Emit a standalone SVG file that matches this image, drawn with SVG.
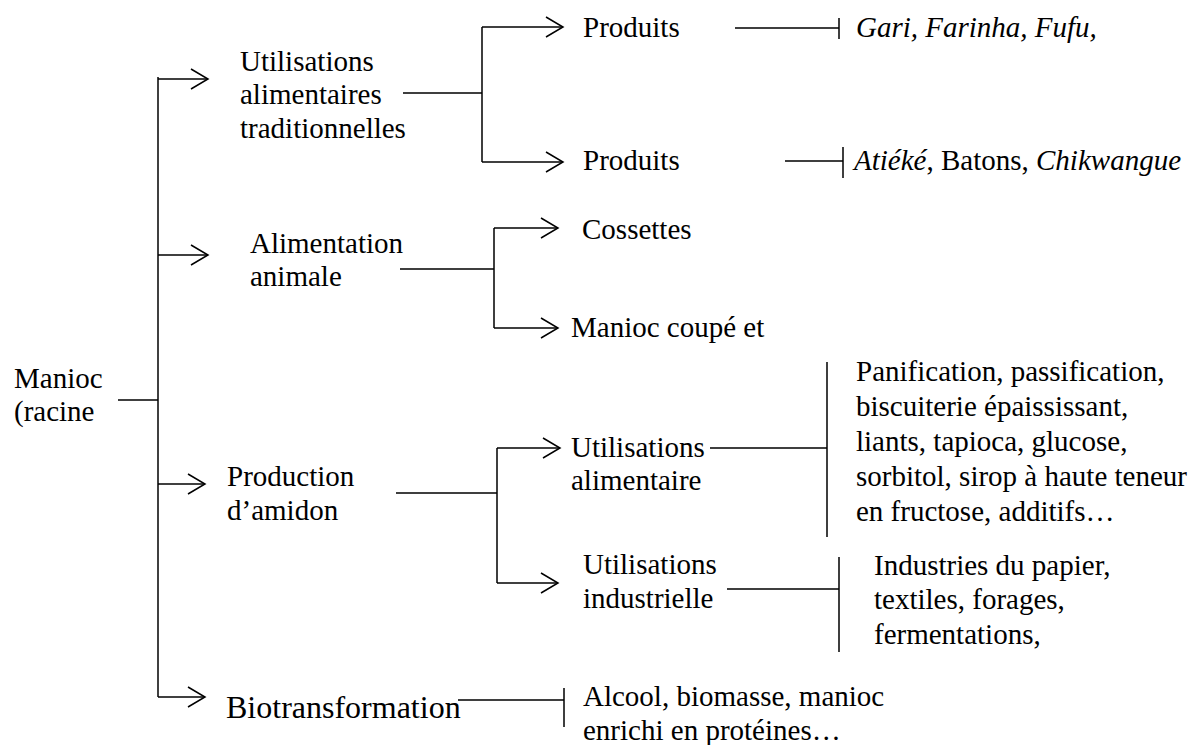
<svg xmlns="http://www.w3.org/2000/svg" width="1191" height="745" viewBox="0 0 1191 745">
  <style>
    text { font-family: 'Liberation Serif', Tinos, 'DejaVu Serif', serif; font-size: 29px; fill: #000; }
    .big { font-size: 32px; }
    .it { font-style: italic; }
    .ln { fill: none; stroke: #000; stroke-width: 1.5; }
    .arr { marker-end: url(#chev); }
  </style>
  <defs>
    <marker id="chev" markerUnits="userSpaceOnUse" markerWidth="20" markerHeight="24" viewBox="-19 -12 20 24" refX="0" refY="0" orient="auto" overflow="visible">
      <path d="M-17,-10 L0,0 L-17,10" fill="none" stroke="#000" stroke-width="1.5"/>
    </marker>
  </defs>
  <rect width="1191" height="745" fill="#fff"/>

  <!-- connectors -->
  <g id="connectors">
    <!-- root trunk -->
    <path class="ln" d="M118,400 H158"/>
    <path class="ln" d="M158,77 V697"/>
    <path class="ln arr" d="M158,79 H208"/>
    <path class="ln arr" d="M158,255 H208"/>
    <path class="ln arr" d="M158,484 H205"/>
    <path class="ln arr" d="M158,697 H205"/>
    <!-- traditional uses -->
    <path class="ln" d="M403,93 H482 M482,27 V162"/>
    <path class="ln arr" d="M482,27 H563"/>
    <path class="ln arr" d="M482,162 H563"/>
    <path class="ln" d="M735,28 H839 M839,18 V39"/>
    <path class="ln" d="M785,161 H843 M843,147 V178"/>
    <!-- animal feed -->
    <path class="ln" d="M400,269 H494 M494,228 V328"/>
    <path class="ln arr" d="M494,228 H558"/>
    <path class="ln arr" d="M494,328 H558"/>
    <!-- starch -->
    <path class="ln" d="M396,493 H497 M497,448 V583"/>
    <path class="ln arr" d="M497,448 H560"/>
    <path class="ln arr" d="M497,583 H558"/>
    <path class="ln" d="M710,448 H827 M827,362 V537"/>
    <path class="ln" d="M727,589 H839 M839,557 V652"/>
    <!-- biotransformation -->
    <path class="ln" d="M458,700 H564 M564,688 V727"/>
  </g>

  <g id="n-manioc">
    <text x="14" y="388">Manioc</text>
    <text x="14" y="421">(racine</text>
  </g>
  <g id="n-trad">
    <text x="240" y="71">Utilisations</text>
    <text x="240" y="104">alimentaires</text>
    <text x="240" y="138">traditionnelles</text>
  </g>
  <g id="n-anim">
    <text x="250" y="253">Alimentation</text>
    <text x="250" y="286">animale</text>
  </g>
  <g id="n-amidon">
    <text x="227" y="486">Production</text>
    <text x="227" y="520">d’amidon</text>
  </g>
  <g id="n-bio">
    <text class="big" x="226" y="718">Biotransformation</text>
  </g>
  <g id="n-prod1">
    <text x="583" y="37">Produits</text>
  </g>
  <g id="n-prod2">
    <text x="583" y="170">Produits</text>
  </g>
  <g id="n-gari">
    <text class="it" x="856" y="37">Gari, Farinha, Fufu,</text>
  </g>
  <g id="n-atieke">
    <text x="854" y="170"><tspan class="it">Atiéké</tspan>, Batons, <tspan class="it">Chikwangue</tspan></text>
  </g>
  <g id="n-cossettes">
    <text x="582" y="239">Cossettes</text>
  </g>
  <g id="n-coupe">
    <text x="571" y="337">Manioc coupé et</text>
  </g>
  <g id="n-ualim">
    <text x="571" y="457">Utilisations</text>
    <text x="571" y="490">alimentaire</text>
  </g>
  <g id="n-uind">
    <text x="583" y="574">Utilisations</text>
    <text x="583" y="608">industrielle</text>
  </g>
  <g id="n-panif">
    <text x="856" y="381">Panification, passification,</text>
    <text x="856" y="416">biscuiterie épaississant,</text>
    <text x="856" y="451">liants, tapioca, glucose,</text>
    <text x="856" y="486">sorbitol, sirop à haute teneur</text>
    <text x="856" y="521">en fructose, additifs…</text>
  </g>
  <g id="n-indus">
    <text x="874" y="575">Industries du papier,</text>
    <text x="874" y="609">textiles, forages,</text>
    <text x="874" y="644">fermentations,</text>
  </g>
  <g id="n-alcool">
    <text x="583" y="706">Alcool, biomasse, manioc</text>
    <text x="583" y="740">enrichi en protéines…</text>
  </g>
</svg>
